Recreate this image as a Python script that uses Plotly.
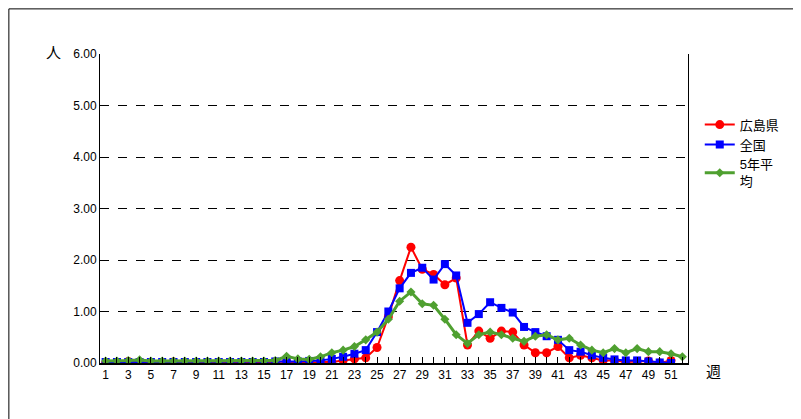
import plotly.graph_objects as go

weeks = list(range(1, 53))
hiroshima = [0.0,0.0,0.03,0.0,0.0,0.0,0.02,0.0,0.0,0.0,0.0,0.0,0.0,0.0,0.0,0.02,0.03,0.0,0.0,0.02,
             0.02,0.05,0.08,0.1,0.3,0.9,1.6,2.25,1.82,1.72,1.52,1.65,0.35,0.62,0.48,0.62,0.6,0.35,0.2,0.2,
             0.32,0.1,0.15,0.1,0.05,0.05,0.02,0.03,0.04,0.0,0.05]
zenkoku = [0.02,0.02,0.02,0.02,0.02,0.02,0.02,0.02,0.02,0.02,0.02,0.02,0.02,0.02,0.02,0.03,0.03,0.03,0.04,0.05,
           0.08,0.12,0.18,0.25,0.6,1.0,1.45,1.75,1.85,1.62,1.92,1.7,0.78,0.95,1.18,1.07,0.98,0.7,0.6,0.52,
           0.45,0.25,0.22,0.15,0.1,0.07,0.05,0.05,0.03,0.01,0.0]
avg5 = [0.04,0.04,0.05,0.06,0.04,0.04,0.04,0.04,0.04,0.04,0.04,0.04,0.04,0.04,0.04,0.05,0.13,0.08,0.07,0.12,
        0.2,0.25,0.32,0.45,0.6,0.85,1.2,1.38,1.15,1.12,0.85,0.55,0.38,0.55,0.6,0.55,0.48,0.42,0.52,0.55,
        0.45,0.48,0.35,0.25,0.2,0.28,0.2,0.28,0.22,0.22,0.18,0.12]
ticklabels = [str(w) if w % 2 == 1 else "" for w in weeks]

fig = go.Figure()
fig.add_trace(go.Scatter(x=weeks[:len(hiroshima)], y=hiroshima, name="広島県", mode="lines+markers",
                         line=dict(color="#ff0000", width=2), marker=dict(symbol="circle", size=9, color="#ff0000")))
fig.add_trace(go.Scatter(x=weeks[:len(zenkoku)], y=zenkoku, name="全国", mode="lines+markers",
                         line=dict(color="#0000ff", width=2), marker=dict(symbol="square", size=8, color="#0000ff")))
fig.add_trace(go.Scatter(x=weeks, y=avg5, name="5年平<br>均", mode="lines+markers",
                         line=dict(color="#4fa030", width=3), marker=dict(symbol="diamond", size=7, color="#4fa030")))

fig.update_layout(
    width=801, height=419, paper_bgcolor="white", plot_bgcolor="white",
    margin=dict(l=92, r=121, t=46, b=64, autoexpand=False),
    font=dict(family="Liberation Sans, Noto Sans CJK JP, sans-serif", size=13, color="black"),
    legend=dict(x=1.02, y=0.82, yanchor="top", tracegroupgap=45, font=dict(size=13)),
    showlegend=True,
    shapes=[dict(type="rect", xref="paper", yref="paper", x0=-0.155, y0=-0.2, x1=1.202, y1=1.146,
                 line=dict(color="black", width=1))],
    annotations=[
        dict(text="人", xref="paper", yref="paper", x=-0.095, y=1.04, showarrow=False, font=dict(size=15)),
        dict(text="週", xref="paper", yref="paper", x=1.06, y=-0.06, showarrow=False, font=dict(size=15)),
    ],
)
fig.update_xaxes(range=[0.5, 52.5], tickmode="array", tickvals=weeks, ticktext=ticklabels,
                 ticks="inside", ticklen=6, tickcolor="black", showline=True, linecolor="black", linewidth=2,
                 mirror=False, showgrid=False, tickangle=0, tickfont=dict(size=12), automargin=False)
fig.update_yaxes(range=[0, 6], dtick=1, tickformat=".2f", showline=True, linecolor="black", linewidth=1,
                 mirror=True, gridcolor="black", griddash="dash", gridwidth=1, ticks="", tickfont=dict(size=12),
                 zeroline=False, automargin=False)
fig.write_html("out.html")
